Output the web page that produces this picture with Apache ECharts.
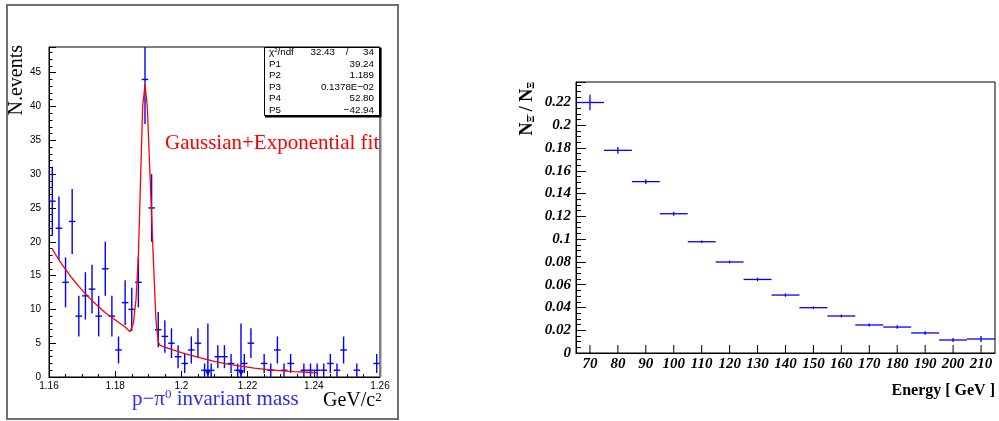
<!DOCTYPE html>
<html><head><meta charset="utf-8">
<script src="https://cdn.jsdelivr.net/npm/echarts@6/dist/echarts.min.js"></script>
<style>html,body{margin:0;padding:0;background:#fff}#c{width:999px;height:421px}</style>
</head><body><div id="c"></div><script>
// ---- left panel: p-pi0 invariant mass histogram (non-empty bins) ----
const massBins   = [1.161,1.163,1.165,1.167,1.169,1.171,1.173,1.175,1.177,1.179,1.181,1.183,1.185,1.187,1.189,1.191,1.193,1.195,1.197,1.199,1.201,1.203,1.205,1.207,1.209,1.211,1.213,1.215,1.217,1.219,1.221,1.225,1.227,1.229,1.231,1.233,1.237,1.239,1.241,1.243,1.245,1.247,1.249,1.253,1.259];
const massCounts = [26,22,14,23,9,12,13,9,16,9,4,11,10,14,44,25,7,6,5,3,2,4,5,1,1,3,3,2,1,2,5,2,1,4,1,2,1,1,1,1,2,1,4,1,2];
const massErrors = [5.1,4.7,3.7,4.8,3,3.5,3.6,3,4,3,2,3.3,3.2,3.7,6.6,5,2.6,2.4,2.2,1.7,1.4,2,2.2,1,1,1.7,1.7,1.4,1,1.4,2.2,1.4,1,2,1,1.4,1,1,1,1,1.4,1,2,1,1.4];
const spikeMass  = [1.208,1.218];
const spikeTop   = [7.9,7.9];
const fitMass    = [1.161,1.163,1.165,1.167,1.169,1.171,1.173,1.175,1.177,1.179,1.181,1.183,1.1845,1.1855,1.1863,1.187,1.1877,1.1883,1.189,1.1897,1.1905,1.1915,1.1923,1.193,1.1935,1.195,1.197,1.2,1.203,1.206,1.21,1.214,1.218,1.222,1.226,1.23,1.234,1.238,1.241];
const fitValues  = [18.9,17.3,15.9,14.6,13.4,12.3,11.3,10.4,9.5,8.8,8.1,7.4,6.7,8.0,11.5,17.8,30,40,43.2,40,30,17.8,8.5,5.2,4.7,4.4,4.1,3.6,3.2,2.8,2.3,1.9,1.6,1.3,1.1,0.95,0.8,0.7,0.63];
const statsNames  = ['P1','P2','P3','P4','P5'];
const statsValues = ['39.24','1.189','0.1378E\u221202','52.80','\u221242.94'];
const chi2Text = ['32.43','/','34'];
// ---- right panel: ratio vs energy ----
const energy     = [70,80,90,100,110,120,130,140,150,160,170,180,190,200,210];
const ratio      = [0.220,0.178,0.1505,0.1223,0.0977,0.0799,0.0646,0.0509,0.0398,0.0325,0.0246,0.0228,0.0176,0.0114,0.0123];
const ratioErr   = [0.0069,0.003,0.002,0.0018,0.0012,0.0012,0.0015,0.0015,0.0012,0.0012,0.0013,0.0015,0.0015,0.0018,0.0026];
const energyTicks = [70,80,90,100,110,120,130,140,150,160,170,180,190,200,210];

const BLUE = '#0000ff';
function errRender(lw){
  return function(params, api){
    const x = api.value(0), y = api.value(1), e = api.value(2), hw = api.value(3);
    const c = api.coord([x, y]);
    const lo = api.coord([x, Math.max(0, y - e)]), hi = api.coord([x, y + e]);
    const l = api.coord([x - hw, y]), r = api.coord([x + hw, y]);
    return {type:'group', children:[
      {type:'line', shape:{x1:c[0], y1:lo[1], x2:c[0], y2:hi[1]}, style:{stroke:BLUE, lineWidth:lw}},
      {type:'line', shape:{x1:l[0], y1:c[1], x2:r[0], y2:c[1]}, style:{stroke:BLUE, lineWidth:lw}}
    ]};
  };
}
const massData = massBins.map((m,i)=>[m, massCounts[i], massErrors[i], 0.001]);
const ratioData = energy.map((e,i)=>[e, ratio[i], ratioErr[i], 5]);
const fitData = fitMass.map((m,i)=>[m, fitValues[i]]);
const spikeData = spikeMass.map((m,i)=>[m, spikeTop[i]]);

const serif = 'Liberation Serif';
const sans = 'Liberation Sans';
const chart = echarts.init(document.getElementById('c'), null, {renderer:'canvas'});

function fmt2(v){ return String(+(+v).toFixed(3)); }

const SF = '9.8px ' + sans;
const statsGraphics = [];
const lineY = [52.5, 64, 75.5, 87, 98.5, 110];
statsGraphics.push({type:'text', x:269, y:lineY[0], style:{text:'{a|\u03c7}{b|2}{a|/ndf}', textVerticalAlign:'middle', rich:{a:{fontFamily:sans,fontSize:9.8,fill:'#000'}, b:{fontFamily:sans,fontSize:6,fill:'#000',verticalAlign:'top'}}}, z:100});
statsGraphics.push({type:'text', x:335, y:lineY[0], style:{text:chi2Text[0], textAlign:'right', textVerticalAlign:'middle', font:SF, fill:'#000'}, z:100});
statsGraphics.push({type:'text', x:347, y:lineY[0], style:{text:chi2Text[1], textAlign:'center', textVerticalAlign:'middle', font:SF, fill:'#000'}, z:100});
statsGraphics.push({type:'text', x:374, y:lineY[0], style:{text:chi2Text[2], textAlign:'right', textVerticalAlign:'middle', font:SF, fill:'#000'}, z:100});
statsNames.forEach((n,i)=>{
  statsGraphics.push({type:'text', x:269, y:lineY[i+1], style:{text:n, textVerticalAlign:'middle', font:SF, fill:'#000'}, z:100});
  statsGraphics.push({type:'text', x:374, y:lineY[i+1], style:{text:statsValues[i], textAlign:'right', textVerticalAlign:'middle', font:SF, fill:'#000'}, z:100});
});

chart.setOption({
  animation:false,
  backgroundColor:'#fff',
  grid:[
    {left:49, top:47, width:331, height:330, show:true, borderColor:'#000', borderWidth:1, backgroundColor:'transparent'},
    {left:576, top:82, width:419, height:271, show:true, borderColor:'#000', borderWidth:1, backgroundColor:'transparent'}
  ],
  xAxis:[
    {gridIndex:0, type:'value', min:1.16, max:1.26, interval:0.02,
     axisLine:{onZero:false, lineStyle:{color:'#000', width:1}},
     axisTick:{inside:true, length:6, lineStyle:{color:'#000'}},
     minorTick:{show:true, splitNumber:4, length:3, lineStyle:{color:'#000'}},
     splitLine:{show:false}, minorSplitLine:{show:false},
     axisLabel:{fontFamily:sans, fontSize:10, color:'#000', margin:4, formatter:fmt2}},
    {gridIndex:1, type:'value', min:65, max:215, interval:5,
     axisLine:{onZero:false, lineStyle:{color:'#000', width:1}},
     axisTick:{show:false}, splitLine:{show:false},
     axisLabel:{fontFamily:serif, fontSize:15, fontWeight:'bold', fontStyle:'italic', color:'#000', margin:4,
       formatter:v=> (Math.round(v)%10===0 ? String(Math.round(v)) : '')}}
  ],
  yAxis:[
    {gridIndex:0, type:'value', min:0, max:48.8, interval:5,
     axisLine:{onZero:false, lineStyle:{color:'#000', width:1}},
     axisTick:{inside:true, length:7, lineStyle:{color:'#000'}},
     minorTick:{show:true, splitNumber:5, length:3.5, lineStyle:{color:'#000'}},
     splitLine:{show:false},
     axisLabel:{fontFamily:sans, fontSize:10, color:'#000', margin:8, showMaxLabel:false,
       formatter:v=> (Math.abs(v/5-Math.round(v/5))<1e-6 ? String(Math.round(v)) : '')}},
    {gridIndex:1, type:'value', min:0, max:0.238, interval:0.02,
     axisLine:{onZero:false, lineStyle:{color:'#000', width:1}},
     axisTick:{inside:true, length:10, lineStyle:{color:'#000'}},
     minorTick:{show:true, splitNumber:4, length:5, lineStyle:{color:'#000'}},
     splitLine:{show:false},
     axisLabel:{fontFamily:serif, fontSize:15, fontWeight:'bold', fontStyle:'italic', color:'#000', margin:5, showMaxLabel:false,
       formatter:v=> (Math.abs(v/0.02-Math.round(v/0.02))<1e-6 ? String(+(+v).toFixed(2)) : '')}}
  ],
  series:[
    {type:'custom', xAxisIndex:0, yAxisIndex:0, clip:true, data:massData, renderItem:errRender(1.4), z:3},
    {type:'custom', xAxisIndex:0, yAxisIndex:0, clip:true, data:spikeData, z:3,
     renderItem:function(params, api){
       const x = api.value(0), t = api.value(1);
       const b = api.coord([x, 0]), tp = api.coord([x, t]);
       return {type:'group', children:[
         {type:'line', shape:{x1:b[0], y1:b[1], x2:b[0], y2:tp[1]}, style:{stroke:BLUE, lineWidth:1.4}},
         {type:'polygon', shape:{points:[[b[0]-3,b[1]-7],[b[0]+3,b[1]-7],[b[0],b[1]-1]]}, style:{fill:BLUE}}
       ]};
     }},
    {type:'line', xAxisIndex:0, yAxisIndex:0, data:fitData, showSymbol:false, symbol:'none', smooth:false, clip:true,
     lineStyle:{color:'#ff0000', width:1.3}, z:4},
    {type:'custom', xAxisIndex:1, yAxisIndex:1, clip:true, data:ratioData, renderItem:errRender(1.3), z:3},
    {type:'custom', xAxisIndex:1, yAxisIndex:1, clip:false, data:energyTicks.map(v=>[v,0]), z:5,
     renderItem:function(params, api){
       const p = api.coord([api.value(0), 0]);
       return {type:'line', shape:{x1:p[0], y1:p[1], x2:p[0], y2:p[1]-8}, style:{stroke:'#000', lineWidth:1}};
     }}
  ],
  graphic:[
    {type:'rect', shape:{x:7, y:5, width:391, height:414}, style:{fill:'none', stroke:'#707070', lineWidth:2}, z:1, silent:true},
    {type:'line', shape:{x1:380.5, y1:47, x2:380.5, y2:377}, style:{stroke:'#808080', lineWidth:2}, z:50},
    {type:'rect', shape:{x:264.5, y:47.5, width:115, height:68}, style:{fill:'#fff', stroke:'#000', lineWidth:1}, z:60},
    {type:'line', shape:{x1:380.5, y1:48, x2:380.5, y2:117}, style:{stroke:'#000', lineWidth:2}, z:61},
    {type:'line', shape:{x1:265, y1:116.5, x2:381, y2:116.5}, style:{stroke:'#000', lineWidth:2}, z:61},
    ...statsGraphics,
    {type:'text', x:17, y:45, rotation:Math.PI/2, style:{text:'N.events', textAlign:'right', textVerticalAlign:'middle', font:'20px '+serif, fill:'#000'}, z:100},
    {type:'text', x:165, y:143, style:{text:'Gaussian+Exponential fit', textVerticalAlign:'middle', font:'21px '+serif, fill:'#ff0000'}, z:100},
    {type:'text', x:132, y:399, style:{text:'{a|p\u2212\u03c0}{b|0}{a| invariant mass}', textVerticalAlign:'middle',
      rich:{a:{fontFamily:serif, fontSize:21, fill:'#2b2bf5'}, b:{fontFamily:serif, fontSize:13, fill:'#2b2bf5', verticalAlign:'top'}}}, z:100},
    {type:'text', x:323, y:401, style:{text:'{a|GeV/c}{b|2}', textVerticalAlign:'middle',
      rich:{a:{fontFamily:serif, fontSize:20, fill:'#000'}, b:{fontFamily:serif, fontSize:13, fill:'#000', verticalAlign:'top'}}}, z:100},
    {type:'text', x:527, y:82, rotation:Math.PI/2, style:{text:'{a|N}{s|\u039e\u0304}{a| / N}{s|\u039e}', textAlign:'right', textVerticalAlign:'middle',
      rich:{a:{fontFamily:serif, fontSize:18, fontWeight:'bold', fill:'#000'}, s:{fontFamily:serif, fontSize:10, fontWeight:'bold', fill:'#000', verticalAlign:'bottom'}}}, z:100},
    {type:'text', x:995, y:391, style:{text:'Energy [ GeV ]', textAlign:'right', textVerticalAlign:'middle', font:'bold 16px '+serif, fill:'#000'}, z:100}
  ]
});
</script></body></html>
